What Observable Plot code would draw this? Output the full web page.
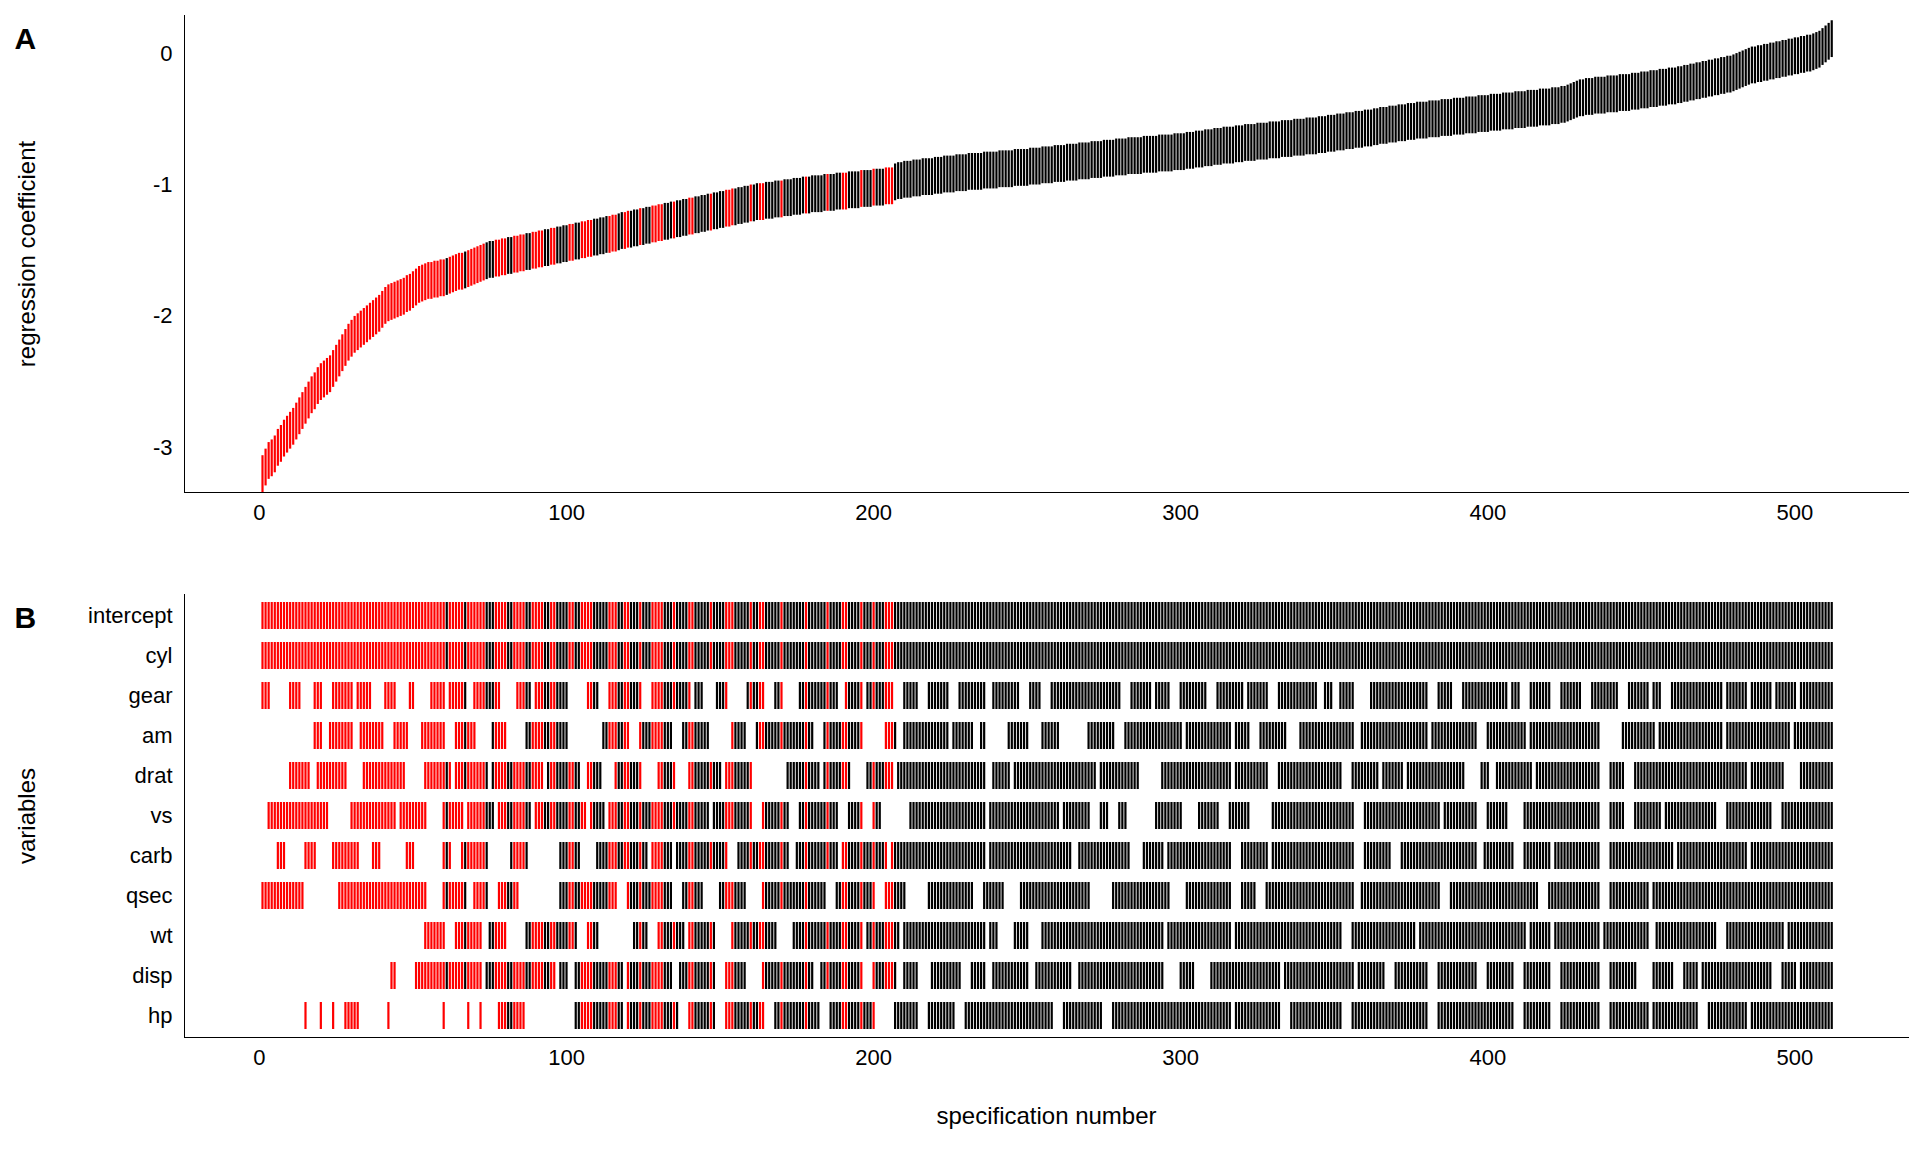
<!DOCTYPE html>
<html>
<head>
<meta charset="utf-8">
<script src="https://cdn.jsdelivr.net/npm/d3@7"></script>
<script src="https://cdn.jsdelivr.net/npm/@observablehq/plot@0.6"></script>
<style>
  body { margin: 0; background: #fff; }
  svg { display: block; }
</style>
</head>
<body>
<div id="chart_a"></div>
<div id="chart_b"></div>
<script>
// coefficient estimate per specification (1..512)
const estimates = [
  -3.2,-3.15,-3.1,-3.08,-3.05,-3.0,-2.97,-2.93,-2.9,-2.87,
  -2.84,-2.8,-2.76,-2.72,-2.68,-2.64,-2.6,-2.57,-2.53,-2.5,
  -2.48,-2.46,-2.44,-2.4,-2.36,-2.32,-2.28,-2.24,-2.2,-2.17,
  -2.14,-2.12,-2.1,-2.08,-2.06,-2.04,-2.02,-2.0,-1.98,-1.95,
  -1.92,-1.9,-1.89,-1.88,-1.87,-1.86,-1.85,-1.83,-1.82,-1.8,
  -1.78,-1.76,-1.75,-1.74,-1.73,-1.73,-1.72,-1.72,-1.71,-1.71,
  -1.7,-1.69,-1.68,-1.67,-1.66,-1.66,-1.65,-1.64,-1.63,-1.62,
  -1.61,-1.6,-1.59,-1.58,-1.57,-1.57,-1.56,-1.56,-1.55,-1.55,
  -1.54,-1.54,-1.53,-1.53,-1.52,-1.52,-1.51,-1.51,-1.5,-1.5,
  -1.49,-1.49,-1.48,-1.48,-1.47,-1.47,-1.46,-1.46,-1.45,-1.45,
  -1.44,-1.44,-1.43,-1.43,-1.42,-1.42,-1.41,-1.41,-1.4,-1.4,
  -1.39,-1.39,-1.38,-1.38,-1.37,-1.37,-1.36,-1.35,-1.35,-1.34,
  -1.34,-1.33,-1.33,-1.32,-1.32,-1.31,-1.31,-1.3,-1.3,-1.29,
  -1.29,-1.28,-1.28,-1.27,-1.27,-1.26,-1.26,-1.25,-1.25,-1.24,
  -1.24,-1.23,-1.23,-1.22,-1.22,-1.21,-1.21,-1.2,-1.2,-1.19,
  -1.19,-1.18,-1.18,-1.17,-1.17,-1.16,-1.16,-1.15,-1.15,-1.14,
  -1.14,-1.13,-1.13,-1.13,-1.12,-1.12,-1.12,-1.11,-1.11,-1.11,
  -1.1,-1.1,-1.1,-1.09,-1.09,-1.09,-1.08,-1.08,-1.08,-1.07,
  -1.07,-1.07,-1.07,-1.06,-1.06,-1.06,-1.06,-1.05,-1.05,-1.05,
  -1.05,-1.04,-1.04,-1.04,-1.04,-1.03,-1.03,-1.03,-1.03,-1.02,
  -1.02,-1.02,-1.02,-1.01,-1.01,-1.01,-0.98,-0.97,-0.97,-0.96,
  -0.96,-0.96,-0.95,-0.95,-0.95,-0.94,-0.94,-0.94,-0.94,-0.93,
  -0.93,-0.93,-0.92,-0.92,-0.92,-0.92,-0.91,-0.91,-0.91,-0.91,
  -0.9,-0.9,-0.9,-0.9,-0.9,-0.89,-0.89,-0.89,-0.89,-0.89,
  -0.88,-0.88,-0.88,-0.88,-0.88,-0.87,-0.87,-0.87,-0.87,-0.87,
  -0.86,-0.86,-0.86,-0.86,-0.85,-0.85,-0.85,-0.85,-0.84,-0.84,
  -0.84,-0.84,-0.83,-0.83,-0.83,-0.83,-0.82,-0.82,-0.82,-0.82,
  -0.81,-0.81,-0.81,-0.81,-0.8,-0.8,-0.8,-0.8,-0.79,-0.79,
  -0.79,-0.79,-0.78,-0.78,-0.78,-0.78,-0.78,-0.77,-0.77,-0.77,
  -0.77,-0.77,-0.76,-0.76,-0.76,-0.76,-0.76,-0.75,-0.75,-0.75,
  -0.75,-0.74,-0.74,-0.74,-0.73,-0.73,-0.73,-0.72,-0.72,-0.72,
  -0.71,-0.71,-0.71,-0.7,-0.7,-0.7,-0.7,-0.69,-0.69,-0.69,
  -0.68,-0.68,-0.68,-0.68,-0.67,-0.67,-0.67,-0.67,-0.66,-0.66,
  -0.66,-0.66,-0.65,-0.65,-0.65,-0.65,-0.64,-0.64,-0.64,-0.64,
  -0.63,-0.63,-0.63,-0.63,-0.62,-0.62,-0.62,-0.61,-0.61,-0.61,
  -0.6,-0.6,-0.6,-0.59,-0.59,-0.59,-0.58,-0.58,-0.58,-0.57,
  -0.57,-0.57,-0.56,-0.56,-0.55,-0.55,-0.55,-0.54,-0.54,-0.54,
  -0.53,-0.53,-0.53,-0.52,-0.52,-0.52,-0.51,-0.51,-0.51,-0.51,
  -0.5,-0.5,-0.5,-0.5,-0.49,-0.49,-0.49,-0.49,-0.48,-0.48,
  -0.48,-0.48,-0.47,-0.47,-0.47,-0.47,-0.46,-0.46,-0.46,-0.46,
  -0.45,-0.45,-0.45,-0.45,-0.44,-0.44,-0.44,-0.44,-0.43,-0.43,
  -0.43,-0.43,-0.42,-0.42,-0.42,-0.42,-0.41,-0.41,-0.41,-0.41,
  -0.4,-0.4,-0.4,-0.39,-0.39,-0.38,-0.37,-0.36,-0.35,-0.34,
  -0.34,-0.33,-0.33,-0.33,-0.32,-0.32,-0.32,-0.32,-0.31,-0.31,
  -0.31,-0.31,-0.3,-0.3,-0.3,-0.3,-0.29,-0.29,-0.29,-0.28,
  -0.28,-0.28,-0.27,-0.27,-0.27,-0.26,-0.26,-0.26,-0.25,-0.25,
  -0.25,-0.24,-0.24,-0.23,-0.23,-0.22,-0.22,-0.21,-0.21,-0.2,
  -0.2,-0.19,-0.19,-0.18,-0.18,-0.17,-0.17,-0.16,-0.16,-0.15,
  -0.14,-0.13,-0.12,-0.11,-0.1,-0.09,-0.09,-0.08,-0.08,-0.07,
  -0.07,-0.06,-0.06,-0.05,-0.05,-0.04,-0.04,-0.03,-0.03,-0.02,
  -0.02,-0.01,-0.01,0.0,0.0,0.01,0.02,0.03,0.05,0.07,0.09,0.11
];
const halfWidth = 0.14;

// specifications drawn in red (ranges, inclusive)
const redRanges = [[1,60],[62,66],[68,73],[77,80],[83,86],[89,92],[95,96],[101,102],[105,108],[114,116],[119,120],[124,124],
  [128,131],[135,135],[140,141],[147,147],[152,154],[160,160],[163,164],[170,170],[178,178],
  [185,185],[190,191],[196,196],[200,200],[204,206]];

const variables = ["intercept","cyl","gear","am","drat","vs","carb","qsec","wt","disp","hp"];

// specs in which each optional variable is included (ranges, inclusive)
const gear = [[1,3],[10,13],[18,20],[24,30],[32,36],[41,44],[49,50],[56,60],[62,67],[70,78],[84,88],[90,100],[107,110],[114,124],[128,140],[142,144],[149,152],[159,164],[168,170],[176,188],[191,196],[198,206],[210,214],[218,224],[228,236],[239,247],[251,254],[258,280],[284,290],[292,296],[300,308],[312,320],[322,328],[332,344],[347,349],[352,356],[362,380],[384,388],[392,406],[408,410],[414,420],[424,430],[434,442],[446,452],[454,456],[460,476],[478,484],[486,492],[494,500],[502,512]];
const am = [[18,20],[23,30],[33,40],[44,48],[53,60],[64,70],[76,80],[87,100],[112,120],[124,134],[138,146],[154,158],[162,180],[184,196],[204,207],[210,224],[226,232],[235,236],[244,250],[255,260],[270,278],[282,300],[302,316],[318,322],[326,334],[339,356],[359,380],[382,396],[400,412],[414,436],[444,454],[456,476],[478,498],[500,512]];
const drat = [[10,16],[19,28],[34,47],[54,62],[64,74],[76,92],[94,104],[107,111],[116,124],[130,135],[140,150],[152,160],[172,182],[184,192],[198,206],[208,236],[239,244],[246,272],[274,286],[294,316],[318,328],[332,352],[356,364],[366,372],[374,392],[398,400],[403,414],[416,436],[440,444],[448,484],[486,496],[502,512]];
const vs = [[3,22],[30,44],[46,54],[60,66],[68,76],[78,88],[90,106],[108,112],[114,146],[148,160],[164,172],[176,188],[192,196],[200,202],[212,236],[238,260],[262,270],[274,276],[280,282],[292,300],[306,312],[316,322],[330,356],[360,384],[386,396],[400,406],[412,436],[440,444],[448,456],[458,474],[478,492],[496,512]];
const carb = [[6,8],[15,18],[24,32],[37,39],[48,50],[60,62],[66,74],[82,87],[98,104],[110,126],[128,134],[136,152],[156,172],[175,188],[190,204],[206,236],[238,264],[267,283],[288,294],[296,316],[320,328],[330,356],[360,368],[372,396],[399,408],[412,420],[422,436],[440,460],[462,484],[486,512]];
const qsec = [[1,14],[26,54],[60,67],[70,74],[78,84],[98,116],[120,134],[138,144],[150,158],[164,184],[188,200],[204,210],[218,232],[236,242],[248,270],[278,296],[302,316],[320,324],[328,356],[359,384],[388,416],[420,436],[440,452],[454,512]];
const wt = [[54,60],[64,72],[75,80],[87,94],[95,103],[107,110],[122,126],[130,138],[140,148],[154,168],[174,196],[198,208],[210,236],[238,240],[246,250],[255,294],[296,316],[318,352],[356,376],[378,412],[414,420],[422,436],[438,452],[455,474],[478,496],[498,512]];
const disp = [[43,44],[51,72],[74,96],[98,100],[103,118],[120,134],[137,148],[152,158],[164,180],[183,196],[200,207],[210,214],[219,228],[232,236],[239,250],[253,264],[267,294],[300,304],[310,332],[334,356],[358,366],[370,380],[384,396],[400,408],[412,420],[424,436],[440,448],[454,460],[464,468],[470,492],[496,500],[502,512]];
const hp = [[15,15],[20,20],[24,24],[28,32],[42,42],[60,60],[68,68],[72,72],[78,86],[103,118],[120,136],[140,148],[152,164],[168,182],[186,200],[207,214],[218,226],[230,258],[262,274],[278,316],[318,332],[336,352],[356,380],[384,408],[412,420],[424,436],[440,452],[454,468],[472,484],[486,512]];
const included = {intercept: [[1,512]], cyl: [[1,512]], gear, am, drat, vs, carb, qsec, wt, disp, hp};

const inRanges = (rs, s) => rs.some(([a, b]) => s >= a && s <= b);
const specs = estimates.map((est, i) => ({
  spec: i + 1, est, lo: est - halfWidth, hi: est + halfWidth,
  red: inRanges(redRanges, i + 1)
}));
const matrix = [];
for (const v of variables)
  for (const d of specs)
    if (inRanges(included[v], d.spec)) matrix.push({variable: v, spec: d.spec, red: d.red});

const font = "Liberation Sans, Arial, sans-serif";
const xDomain = [-24.4, 537];
const colorOf = d => d.red ? "#ff0000" : "#000000";

const chartA = Plot.plot({
  width: 1920, height: 540,
  marginLeft: 184, marginRight: 12, marginTop: 15, marginBottom: 48,
  style: {fontFamily: font, fontSize: "22px", color: "#000"},
  x: {domain: xDomain, ticks: [0,100,200,300,400,500], tickSize: 0, tickPadding: 12, line: true, label: null},
  y: {domain: [-3.34, 0.29], ticks: [-3,-2,-1,0], tickFormat: d => String(d), tickSize: 0, tickPadding: 12, line: true, label: null},
  marks: [
    Plot.ruleX(specs, {x: "spec", y1: "lo", y2: "hi", stroke: colorOf, strokeWidth: 2.2}),
    Plot.text(["regression coefficient"], {frameAnchor: "left", dx: -157, rotate: -90, textAnchor: "middle", fontSize: 24}),
    Plot.text(["A"], {frameAnchor: "top-left", dx: -170, dy: 12, fontSize: 30, fontWeight: "bold"})
  ]
});
d3.select("#chart_a").append(() => chartA);

const chartB = Plot.plot({
  width: 1920, height: 612,
  marginLeft: 184, marginRight: 12, marginTop: 54, marginBottom: 115,
  style: {fontFamily: font, fontSize: "22px", color: "#000"},
  x: {domain: xDomain, ticks: [0,100,200,300,400,500], tickSize: 0, tickPadding: 12, line: true, label: null},
  y: {type: "band", domain: variables, paddingInner: 0.33, paddingOuter: 0.2, tickSize: 0, tickPadding: 12, line: true, label: null},
  marks: [
    Plot.tickX(matrix, {x: "spec", y: "variable", stroke: colorOf, strokeWidth: 2.2}),
    Plot.text(["variables"], {frameAnchor: "left", dx: -157, rotate: -90, textAnchor: "middle", fontSize: 24}),
    Plot.text(["specification number"], {frameAnchor: "bottom", dy: 86, fontSize: 24}),
    Plot.text(["B"], {frameAnchor: "top-left", dx: -170, dy: 12, fontSize: 30, fontWeight: "bold"})
  ]
});
d3.select("#chart_b").append(() => chartB);
</script>
</body>
</html>
